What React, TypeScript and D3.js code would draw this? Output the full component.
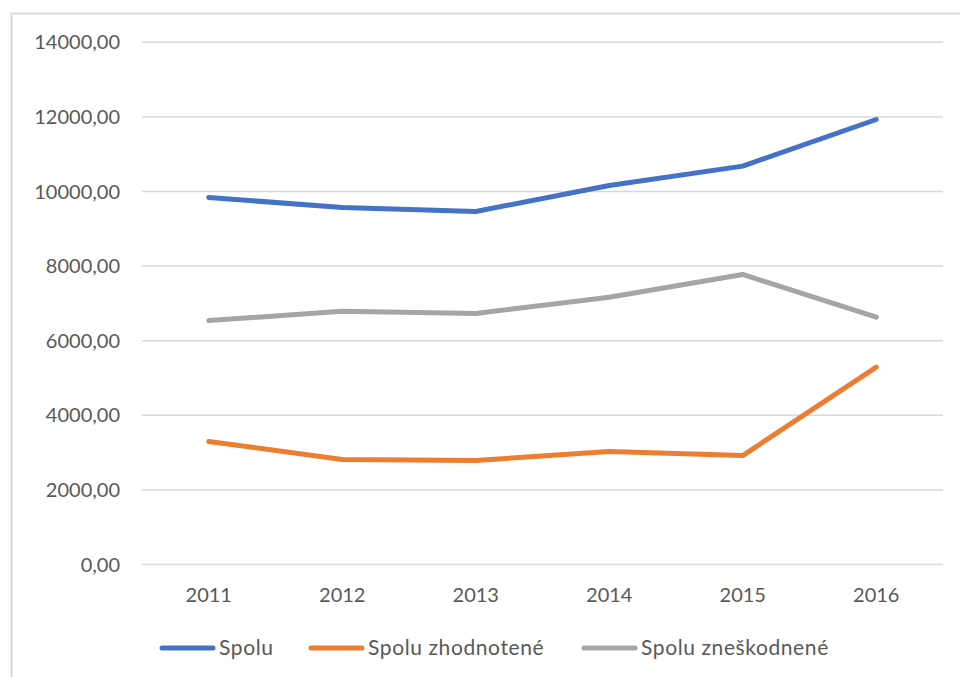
import { useEffect, useRef } from "react";
import * as d3 from "d3";

const years = ["2011", "2012", "2013", "2014", "2015", "2016"];
const spolu = [9840, 9570, 9465, 10160, 10680, 11930];
const zhodnotene = [3300, 2815, 2790, 3030, 2920, 5290];
const zneskodnene = [6540, 6790, 6730, 7165, 7775, 6630];
const yTicks = [0, 2000, 4000, 6000, 8000, 10000, 12000, 14000];
const seriesNames = ["Spolu", "Spolu zhodnotené", "Spolu zneškodnené"];
const seriesColors = ["#4472C4", "#ED7D31", "#A5A5A5"];

const W = 960;
const H = 677;
const FONT = "Lato, 'Open Sans', sans-serif";

const App = () => {
  const svgRef = useRef<SVGSVGElement>(null);

  useEffect(() => {
    const svg = d3.select(svgRef.current);
    svg.selectAll("*").remove();

    const left = 142, right = 943, top = 42.3, bottom = 564.5;

    // chart frame
    svg.append("rect")
      .attr("x", 11.5).attr("y", 13.5)
      .attr("width", 960).attr("height", 700)
      .attr("fill", "#fff")
      .attr("stroke", "#d9d9d9")
      .attr("stroke-width", 2);

    const x = d3.scaleBand().domain(years).range([left, right]);
    const y = d3.scaleLinear().domain([0, 14000]).range([bottom, top]);

    const fmt = (v: number) => d3.format(".2f")(v).replace(".", ",");

    // gridlines + y labels
    const yg = svg.append("g");
    yg.selectAll("line")
      .data(yTicks)
      .enter()
      .append("line")
      .attr("x1", left).attr("x2", right)
      .attr("y1", (d) => y(d)).attr("y2", (d) => y(d))
      .attr("stroke", "#d9d9d9")
      .attr("stroke-width", 1.5);
    yg.selectAll("text")
      .data(yTicks)
      .enter()
      .append("text")
      .attr("x", 120)
      .attr("y", (d) => y(d))
      .attr("dy", "0.35em")
      .attr("text-anchor", "end")
      .attr("font-family", FONT)
      .attr("font-size", 20)
      .attr("fill", "#595959")
      .text((d) => fmt(d));

    // x labels
    svg.append("g").selectAll("text")
      .data(years)
      .enter()
      .append("text")
      .attr("x", (d) => (x(d) as number) + x.bandwidth() / 2)
      .attr("y", 595)
      .attr("dy", "0.35em")
      .attr("text-anchor", "middle")
      .attr("font-family", FONT)
      .attr("font-size", 20)
      .attr("fill", "#595959")
      .text((d) => d);

    const line = d3.line<number>()
      .x((_, i) => (x(years[i]) as number) + x.bandwidth() / 2)
      .y((d) => y(d));

    [spolu, zhodnotene, zneskodnene].forEach((vals, i) => {
      svg.append("path")
        .datum(vals)
        .attr("fill", "none")
        .attr("stroke", seriesColors[i])
        .attr("stroke-width", 5)
        .attr("stroke-linecap", "round")
        .attr("stroke-linejoin", "round")
        .attr("d", line);
    });

    // legend
    const legendX = [160, 309, 582];
    const lg = svg.append("g");
    seriesNames.forEach((name, i) => {
      lg.append("line")
        .attr("x1", legendX[i] + 2).attr("x2", legendX[i] + 53)
        .attr("y1", 648).attr("y2", 648)
        .attr("stroke", seriesColors[i])
        .attr("stroke-width", 5)
        .attr("stroke-linecap", "round");
      lg.append("text")
        .attr("x", legendX[i] + 59)
        .attr("y", 648)
        .attr("dy", "0.35em")
        .attr("font-family", FONT)
        .attr("font-size", 21)
        .attr("letter-spacing", 0.6)
        .attr("fill", "#595959")
        .text(name);
    });
  }, []);

  return (
    <svg
      ref={svgRef}
      width={W}
      height={H}
      style={{ position: "absolute", left: 0, top: 0, background: "#fff" }}
    />
  );
};

export default App;
